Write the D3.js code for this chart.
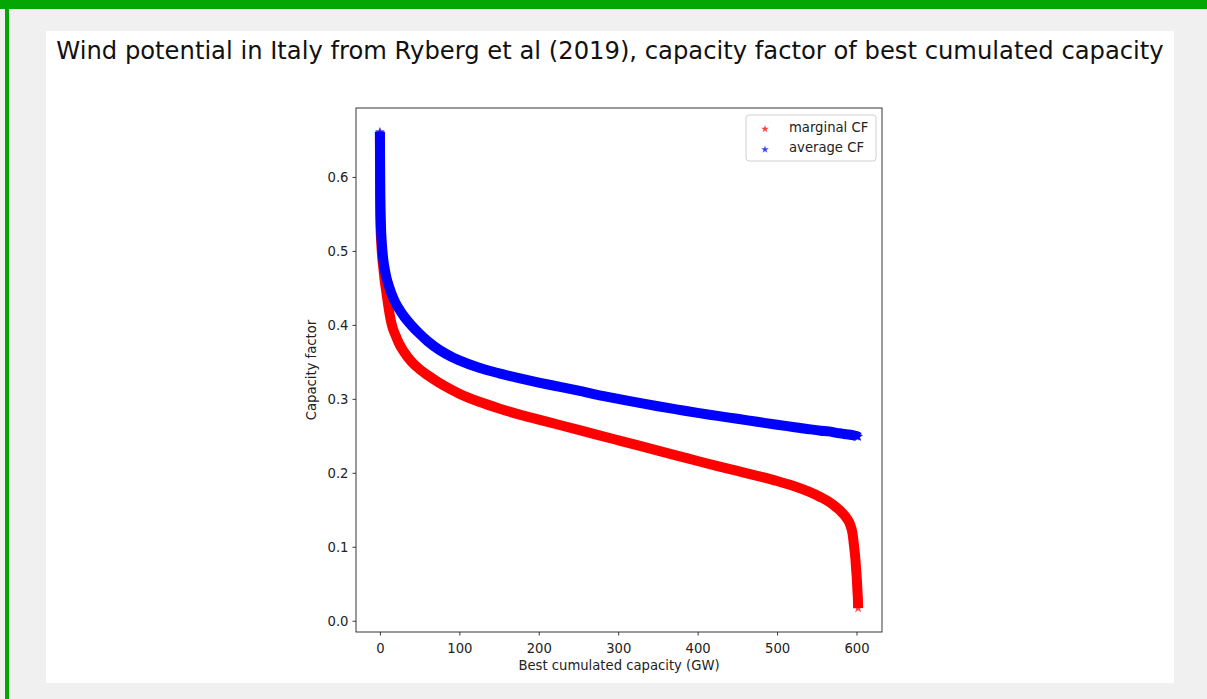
<!DOCTYPE html>
<html><head><meta charset="utf-8">
<script src="https://cdn.jsdelivr.net/npm/d3@7"></script>
<style>
body{margin:0;background:#f0f0f0;}
svg{display:block;font-family:"DejaVu Sans",sans-serif;}
</style>
</head><body>
<svg id="c" width="1207" height="699"></svg>
<script>
// ---- data ----
const titleText = "Wind potential in Italy from Ryberg et al (2019), capacity factor of best cumulated capacity";
const xLabel = "Best cumulated capacity (GW)";
const yLabel = "Capacity factor";
const seriesNames = ["marginal CF", "average CF"];
const capacityGW = [0, 0.2, 0.5, 1, 1.5, 2, 3, 4, 5, 6, 8, 10, 12, 15, 20, 25, 30, 40, 50, 60, 75, 90, 100, 125, 150, 175, 200, 225, 250, 275, 300, 325, 350, 375, 400, 425, 450, 475, 500, 520, 540, 555, 565, 575, 582, 588, 592, 595, 597, 598.5, 599.5, 600.5, 601.2, 601.8, 602];
const marginalCF = [0.660, 0.580, 0.545, 0.525, 0.515, 0.505, 0.490, 0.480, 0.470, 0.460, 0.445, 0.430, 0.416, 0.400, 0.385, 0.373, 0.364, 0.350, 0.340, 0.332, 0.3215, 0.3125, 0.307, 0.296, 0.287, 0.279, 0.272, 0.265, 0.258, 0.251, 0.244, 0.237, 0.230, 0.223, 0.216, 0.209, 0.2025, 0.196, 0.189, 0.1825, 0.1745, 0.167, 0.161, 0.153, 0.146, 0.138, 0.130, 0.118, 0.100, 0.085, 0.070, 0.055, 0.040, 0.028, 0.017];
const averageCF = [0.661, 0.620, 0.575, 0.545, 0.528, 0.517, 0.502, 0.491, 0.482, 0.476, 0.465, 0.457, 0.450, 0.441, 0.429, 0.420, 0.412, 0.399, 0.388, 0.378, 0.366, 0.357, 0.352, 0.342, 0.3345, 0.328, 0.322, 0.3165, 0.311, 0.305, 0.300, 0.295, 0.290, 0.2855, 0.281, 0.277, 0.273, 0.269, 0.265, 0.262, 0.259, 0.257, 0.256, 0.254, 0.253, 0.252, 0.2515, 0.251, 0.2505, 0.250, 0.2498, 0.2495, 0.2493, 0.249, 0.2488];
const xTicks = [0, 100, 200, 300, 400, 500, 600];
const yTicks = [0.0, 0.1, 0.2, 0.3, 0.4, 0.5, 0.6];
const seriesColors = ["#ff0000", "#0000ff"];

// ---- layout ----
const svg = d3.select("#c");
const W = 1207, H = 699;
const plot = {left: 356, right: 882, top: 108, bottom: 632};
const fs = 13.2;

// page frame
svg.append("rect").attr("x", 0).attr("y", 0).attr("width", W).attr("height", H).attr("fill", "#f0f0f0");
svg.append("rect").attr("x", 0).attr("y", 0).attr("width", W).attr("height", 9).attr("fill", "#04a604");
svg.append("rect").attr("x", 5).attr("y", 0).attr("width", 4).attr("height", H).attr("fill", "#04a604");
svg.append("rect").attr("x", 46).attr("y", 31).attr("width", 1128).attr("height", 652).attr("fill", "#ffffff");

// title fitted to reference width
const title = svg.append("text").attr("x", 610).attr("y", 58.5).attr("text-anchor", "middle")
  .attr("font-size", 22).attr("fill", "#111").text(titleText);
const tw = title.node().getComputedTextLength();
title.attr("font-size", 22 * 1108 / tw);

// scales with matplotlib-like 5% margins
const xExt = d3.extent(capacityGW);
const yExt = d3.extent(marginalCF.concat(averageCF));
const xPad = (xExt[1] - xExt[0]) * 0.05, yPad = (yExt[1] - yExt[0]) * 0.05;
const x = d3.scaleLinear().domain([xExt[0] - xPad, xExt[1] + xPad]).range([plot.left, plot.right]);
const y = d3.scaleLinear().domain([yExt[0] - yPad, yExt[1] + yPad]).range([plot.bottom, plot.top]);

// axes
const gx = svg.append("g").attr("transform", `translate(0,${plot.bottom})`)
  .call(d3.axisBottom(x).tickValues(xTicks).tickFormat(d3.format("d")).tickSize(3.5).tickSizeOuter(0));
const gy = svg.append("g").attr("transform", `translate(${plot.left},0)`)
  .call(d3.axisLeft(y).tickValues(yTicks).tickFormat(d3.format(".1f")).tickSize(3.5).tickSizeOuter(0));
[gx, gy].forEach(g => {
  g.select(".domain").remove();
  g.selectAll(".tick line").attr("stroke", "#222").attr("stroke-width", 0.9);
  g.selectAll(".tick text").attr("font-family", "DejaVu Sans").attr("font-size", fs).attr("fill", "#222");
});
gx.selectAll(".tick text").attr("dy", "0").attr("y", 20.5);
gy.selectAll(".tick text").attr("x", -7.5).attr("dy", "0.36em");

// data marks
const pts = [marginalCF, averageCF].map(arr => capacityGW.map((c, i) => [c, arr[i]]));
const line = d3.line().x(d => x(d[0])).y(d => y(d[1])).curve(d3.curveMonotoneX);
const star = d3.symbol().type(d3.symbolStar);
pts.forEach((p, k) => {
  svg.append("path").attr("d", line(p)).attr("fill", "none")
    .attr("stroke", seriesColors[k]).attr("stroke-width", 10).attr("stroke-linejoin", "round");
  svg.append("g").selectAll("path").data(p).join("path")
    .attr("transform", d => `translate(${x(d[0])},${y(d[1])})`)
    .attr("d", star.size(30)()).attr("fill", seriesColors[k]).attr("fill-opacity", 0.7);
});

// spines
svg.append("rect").attr("x", plot.left).attr("y", plot.top)
  .attr("width", plot.right - plot.left).attr("height", plot.bottom - plot.top)
  .attr("fill", "none").attr("stroke", "#222").attr("stroke-width", 0.9);

// axis labels
svg.append("text").attr("x", (plot.left + plot.right) / 2).attr("y", 670).attr("text-anchor", "middle")
  .attr("font-size", fs).attr("fill", "#222").text(xLabel);
svg.append("text").attr("transform", `translate(316,${(plot.top + plot.bottom) / 2}) rotate(-90)`)
  .attr("text-anchor", "middle").attr("font-size", fs).attr("fill", "#222").text(yLabel);

// legend
const lg = svg.append("g");
lg.append("rect").attr("x", 746).attr("y", 115).attr("width", 130).attr("height", 46)
  .attr("rx", 3).attr("fill", "#fff").attr("fill-opacity", 0.8).attr("stroke", "#d0d0d0").attr("stroke-width", 1);
seriesNames.forEach((n, i) => {
  const cy = 129 + i * 20.5;
  lg.append("path").attr("transform", `translate(765,${cy})`).attr("d", star.size(18)())
    .attr("fill", seriesColors[i]).attr("fill-opacity", 0.75);
  lg.append("text").attr("x", 789).attr("y", cy + 2.5).attr("font-size", fs).attr("fill", "#222").text(n);
});
</script>
</body></html>
